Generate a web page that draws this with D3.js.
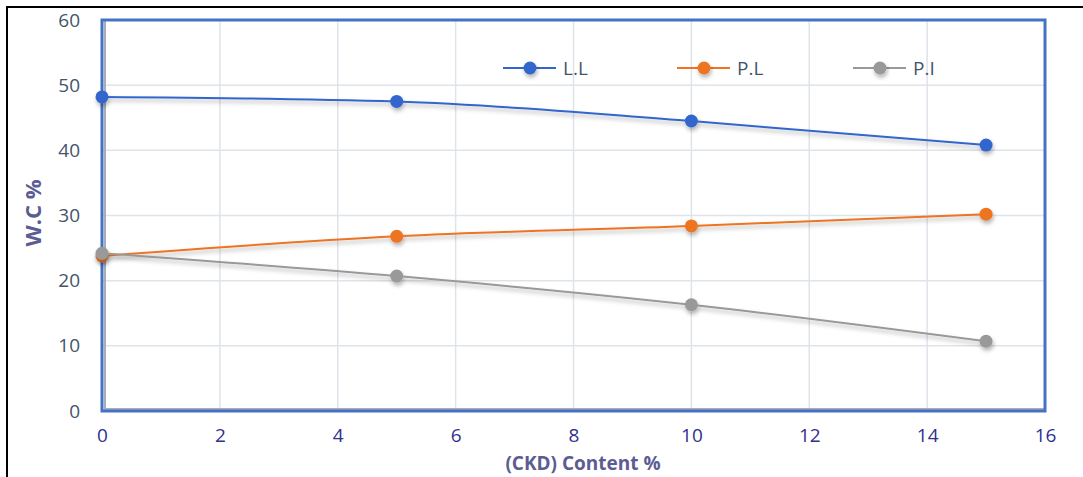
<!DOCTYPE html>
<html>
<head>
<meta charset="utf-8">
<script src="https://cdn.jsdelivr.net/npm/d3@7"></script>
<style>
body { margin: 0; background: #fff; }
text { font-family: "Open Sans", Lato, sans-serif; }
</style>
</head>
<body>
<div id="canvas"></div>
<script>
var ckd = [0, 5, 10, 15]
var liquidLimit = [48.2, 47.5, 44.5, 40.8]
var plasticLimit = [23.8, 26.8, 28.4, 30.2]
var plasticIndex = [24.2, 20.7, 16.3, 10.7]
var seriesNames = ["L.L", "P.L", "P.I"]
var seriesColors = ["#3366cc", "#ed7422", "#999999"]
var xTicks = [0, 2, 4, 6, 8, 10, 12, 14, 16]
var yTicks = [0, 10, 20, 30, 40, 50, 60]

var width = 1083
var height = 477
var plotLeft = 102, plotRight = 1045, plotTop = 20, plotBottom = 411

var svg = d3.select("#canvas")
    .append("svg")
    .attr("width", width)
    .attr("height", height)

var defs = svg.append("defs")
defs.append("filter")
    .attr("id", "shadow")
    .attr("x", "-20%").attr("y", "-50%")
    .attr("width", "140%").attr("height", "200%")
    .append("feDropShadow")
    .attr("dx", 1).attr("dy", 3)
    .attr("stdDeviation", 2)
    .attr("flood-color", "#000")
    .attr("flood-opacity", 0.3)

// outer frame (top + left only)
svg.append("line").attr("x1", 7).attr("x2", width).attr("y1", 7).attr("y2", 7)
    .attr("stroke", "#000").attr("stroke-width", 2)
svg.append("line").attr("x1", 7).attr("x2", 7).attr("y1", 6).attr("y2", height)
    .attr("stroke", "#000").attr("stroke-width", 2)

var xScale = d3.scaleLinear().domain([0, 16]).range([plotLeft, plotRight])
var yScale = d3.scaleLinear().domain([0, 60]).range([plotBottom, plotTop])

// gridlines
svg.append("g")
    .selectAll("line")
    .data(xTicks.slice(1, -1))
    .enter().append("line")
    .attr("x1", d => xScale(d)).attr("x2", d => xScale(d))
    .attr("y1", plotTop).attr("y2", plotBottom)
    .attr("stroke", "#dfe3ea").attr("stroke-width", 1.5)
svg.append("g")
    .selectAll("line")
    .data(yTicks.slice(1, -1))
    .enter().append("line")
    .attr("x1", plotLeft).attr("x2", plotRight)
    .attr("y1", d => yScale(d)).attr("y2", d => yScale(d))
    .attr("stroke", "#dfe3ea").attr("stroke-width", 1.5)

// plot border
svg.append("line").attr("x1", plotLeft + 3).attr("x2", plotRight).attr("y1", plotBottom - 2).attr("y2", plotBottom - 2)
    .attr("stroke", "#a6adbd").attr("stroke-width", 2)
svg.append("line").attr("x1", plotLeft + 3).attr("x2", plotLeft + 3).attr("y1", plotTop).attr("y2", plotBottom)
    .attr("stroke", "#a6adbd").attr("stroke-width", 2)
svg.append("rect")
    .attr("x", plotLeft).attr("y", plotTop)
    .attr("width", plotRight - plotLeft).attr("height", plotBottom - plotTop)
    .attr("fill", "none")
    .attr("stroke", "#4472c4")
    .attr("stroke-width", 3)

// axes
var xAxis = svg.append("g")
    .attr("transform", `translate(0,${plotBottom})`)
    .call(d3.axisBottom(xScale).tickValues(xTicks).tickSize(0).tickPadding(18))
xAxis.select(".domain").remove()
xAxis.selectAll("text").attr("fill", "#30308f").style("font-size", "19px")

var yAxis = svg.append("g")
    .attr("transform", `translate(${plotLeft},0)`)
    .call(d3.axisLeft(yScale).tickValues(yTicks).tickSize(0).tickPadding(22))
yAxis.select(".domain").remove()
yAxis.selectAll("text").attr("fill", "#44546a").style("font-size", "19px")

// axis titles
svg.append("text")
    .attr("x", 583).attr("y", 470)
    .attr("text-anchor", "middle")
    .attr("fill", "#5c5c94")
    .style("font-size", "19px").style("font-weight", "bold")
    .text("(CKD) Content %")
svg.append("text")
    .attr("transform", "translate(41,213) rotate(-90)")
    .attr("text-anchor", "middle")
    .attr("fill", "#5c5c94")
    .style("font-size", "22px").style("font-weight", "bold")
    .text("W.C %")

// series
var allSeries = [liquidLimit, plasticLimit, plasticIndex]
var line = d3.line()
    .x((d, i) => xScale(ckd[i]))
    .y(d => yScale(d))
    .curve(d3.curveMonotoneX)

allSeries.forEach(function (values, k) {
    var g = svg.append("g").attr("filter", "url(#shadow)")
    g.append("path")
        .attr("d", line(values))
        .attr("fill", "none")
        .attr("stroke", seriesColors[k])
        .attr("stroke-width", 2)
    g.selectAll("circle")
        .data(values)
        .enter().append("circle")
        .attr("cx", (d, i) => xScale(ckd[i]))
        .attr("cy", d => yScale(d))
        .attr("r", 6.5)
        .attr("fill", seriesColors[k])
})

// legend
var legendX = [503, 677, 853]
var legend = svg.append("g")
seriesNames.forEach(function (name, k) {
    var g = legend.append("g").attr("transform", `translate(${legendX[k]},68)`)
    g.append("line").attr("x1", 0).attr("x2", 53)
        .attr("stroke", seriesColors[k]).attr("stroke-width", 2)
    g.append("circle").attr("cx", 27).attr("r", 6.5)
        .attr("fill", seriesColors[k])
        .attr("filter", "url(#shadow)")
    g.append("text").attr("x", 60).attr("y", 7)
        .attr("fill", "#44546a")
        .style("font-size", "19px")
        .text(name)
})
</script>
</body>
</html>
